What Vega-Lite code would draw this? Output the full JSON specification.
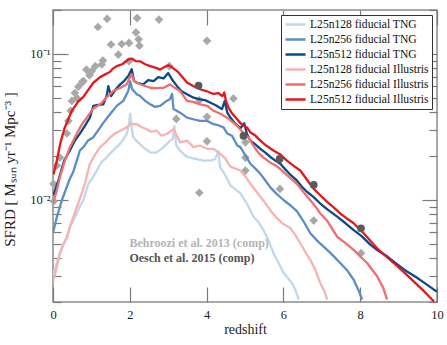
{
  "$schema": "https://vega.github.io/schema/vega-lite/v6.json",
  "width": 384,
  "height": 292,
  "autosize": {"type": "none"},
  "padding": {"left": 53, "top": 10, "right": 10, "bottom": 43},
  "config": {
    "view": {"stroke": "#8c8c8c", "strokeWidth": 1.5},
    "font": "Liberation Serif",
    "axis": {"grid": false, "domain": false, "labelFont": "Liberation Serif", "titleFont": "Liberation Serif", "titleFontWeight": "normal", "labelColor": "#222", "titleColor": "#222", "tickColor": "#7a7a7a", "tickWidth": 1.2}
  },
  "datasets": {
    "behroozi": [
      {"z":1.41,"sfrd":0.174},{"z":1.17,"sfrd":0.153},{"z":2.19,"sfrd":0.176},{"z":2.76,"sfrd":0.172},{"z":4.01,"sfrd":0.123},
      {"z":2.16,"sfrd":0.1405},{"z":1.98,"sfrd":0.119},{"z":2.23,"sfrd":0.126},{"z":2.25,"sfrd":0.114},{"z":1.51,"sfrd":0.116},
      {"z":1.79,"sfrd":0.117},{"z":1.70,"sfrd":0.0989},{"z":1.30,"sfrd":0.0902},{"z":1.10,"sfrd":0.0825},{"z":0.87,"sfrd":0.078},
      {"z":0.95,"sfrd":0.0714},{"z":0.76,"sfrd":0.0642},{"z":0.66,"sfrd":0.0596},{"z":0.57,"sfrd":0.054},{"z":0.49,"sfrd":0.0477},
      {"z":0.46,"sfrd":0.0408},{"z":0.40,"sfrd":0.0348},{"z":0.36,"sfrd":0.0285},{"z":0.18,"sfrd":0.0195},{"z":0.10,"sfrd":0.0172},
      {"z":1.98,"sfrd":0.0892},{"z":3.03,"sfrd":0.0825},{"z":3.81,"sfrd":0.0482},{"z":4.01,"sfrd":0.0371},{"z":4.01,"sfrd":0.0252},
      {"z":3.81,"sfrd":0.0112},{"z":4.70,"sfrd":0.0495},{"z":5.01,"sfrd":0.0248},{"z":5.01,"sfrd":0.0195},{"z":5.01,"sfrd":0.0159},
      {"z":5.91,"sfrd":0.0119},{"z":6.79,"sfrd":0.00722},{"z":8.02,"sfrd":0.00432},{"z":1.27,"sfrd":0.0847},{"z":1.01,"sfrd":0.0763},
      {"z":0.79,"sfrd":0.0652},{"z":0.01,"sfrd":0.0129},{"z":0.02,"sfrd":0.0098},{"z":3.21,"sfrd":0.0359},{"z":0.62,"sfrd":0.05}
    ],
    "oesch": [
      {"z":3.79,"sfrd":0.0608},{"z":4.96,"sfrd":0.0275},{"z":5.90,"sfrd":0.0191},{"z":6.79,"sfrd":0.0127},{"z":8.02,"sfrd":0.00639}
    ],
    "notes": [
      {"label":"Behroozi et al. 2013 (comp)","z":1.99,"sfrd":0.00511},
      {"label":"Oesch et al. 2015 (comp)","z":1.99,"sfrd":0.0040}
    ],
    "sims": [
      {"run":"L25n128 fiducial TNG","z":0.0,"sfrd":0.00307},{"run":"L25n128 fiducial TNG","z":0.10,"sfrd":0.0037},{"run":"L25n128 fiducial TNG","z":0.27,"sfrd":0.00505},{"run":"L25n128 fiducial TNG","z":0.37,"sfrd":0.00549},{"run":"L25n128 fiducial TNG","z":0.44,"sfrd":0.00655},{"run":"L25n128 fiducial TNG","z":0.62,"sfrd":0.00808},{"run":"L25n128 fiducial TNG","z":0.70,"sfrd":0.00906},{"run":"L25n128 fiducial TNG","z":0.79,"sfrd":0.00995},{"run":"L25n128 fiducial TNG","z":0.92,"sfrd":0.0129},{"run":"L25n128 fiducial TNG","z":1.02,"sfrd":0.014},{"run":"L25n128 fiducial TNG","z":1.14,"sfrd":0.0159},{"run":"L25n128 fiducial TNG","z":1.25,"sfrd":0.018},{"run":"L25n128 fiducial TNG","z":1.40,"sfrd":0.0196},{"run":"L25n128 fiducial TNG","z":1.51,"sfrd":0.0211},{"run":"L25n128 fiducial TNG","z":1.66,"sfrd":0.023},{"run":"L25n128 fiducial TNG","z":1.77,"sfrd":0.0247},{"run":"L25n128 fiducial TNG","z":1.92,"sfrd":0.0283},{"run":"L25n128 fiducial TNG","z":1.97,"sfrd":0.0322},{"run":"L25n128 fiducial TNG","z":2.01,"sfrd":0.039},{"run":"L25n128 fiducial TNG","z":2.05,"sfrd":0.0312},{"run":"L25n128 fiducial TNG","z":2.09,"sfrd":0.0269},{"run":"L25n128 fiducial TNG","z":2.22,"sfrd":0.0247},{"run":"L25n128 fiducial TNG","z":2.35,"sfrd":0.023},{"run":"L25n128 fiducial TNG","z":2.53,"sfrd":0.0212},{"run":"L25n128 fiducial TNG","z":2.69,"sfrd":0.0211},{"run":"L25n128 fiducial TNG","z":2.88,"sfrd":0.023},{"run":"L25n128 fiducial TNG","z":3.05,"sfrd":0.0255},{"run":"L25n128 fiducial TNG","z":3.12,"sfrd":0.0262},{"run":"L25n128 fiducial TNG","z":3.16,"sfrd":0.032},{"run":"L25n128 fiducial TNG","z":3.21,"sfrd":0.0236},{"run":"L25n128 fiducial TNG","z":3.31,"sfrd":0.0218},{"run":"L25n128 fiducial TNG","z":3.49,"sfrd":0.0197},{"run":"L25n128 fiducial TNG","z":3.65,"sfrd":0.0193},{"run":"L25n128 fiducial TNG","z":3.92,"sfrd":0.0186},{"run":"L25n128 fiducial TNG","z":4.09,"sfrd":0.0186},{"run":"L25n128 fiducial TNG","z":4.22,"sfrd":0.019},{"run":"L25n128 fiducial TNG","z":4.31,"sfrd":0.0215},{"run":"L25n128 fiducial TNG","z":4.35,"sfrd":0.0168},{"run":"L25n128 fiducial TNG","z":4.46,"sfrd":0.0152},{"run":"L25n128 fiducial TNG","z":4.62,"sfrd":0.0126},{"run":"L25n128 fiducial TNG","z":4.88,"sfrd":0.0111},{"run":"L25n128 fiducial TNG","z":5.05,"sfrd":0.00945},{"run":"L25n128 fiducial TNG","z":5.22,"sfrd":0.00767},{"run":"L25n128 fiducial TNG","z":5.35,"sfrd":0.00706},{"run":"L25n128 fiducial TNG","z":5.48,"sfrd":0.00622},{"run":"L25n128 fiducial TNG","z":5.61,"sfrd":0.00532},{"run":"L25n128 fiducial TNG","z":5.74,"sfrd":0.00432},{"run":"L25n128 fiducial TNG","z":5.87,"sfrd":0.00371},{"run":"L25n128 fiducial TNG","z":6.01,"sfrd":0.00316},{"run":"L25n128 fiducial TNG","z":6.22,"sfrd":0.0027},{"run":"L25n128 fiducial TNG","z":6.31,"sfrd":0.00243},{"run":"L25n128 fiducial TNG","z":6.40,"sfrd":0.00208},

      {"run":"L25n256 fiducial TNG","z":0.0,"sfrd":0.00594},{"run":"L25n256 fiducial TNG","z":0.10,"sfrd":0.00763},{"run":"L25n256 fiducial TNG","z":0.23,"sfrd":0.00995},{"run":"L25n256 fiducial TNG","z":0.31,"sfrd":0.01134},{"run":"L25n256 fiducial TNG","z":0.44,"sfrd":0.014},{"run":"L25n256 fiducial TNG","z":0.52,"sfrd":0.0154},{"run":"L25n256 fiducial TNG","z":0.62,"sfrd":0.0186},{"run":"L25n256 fiducial TNG","z":0.70,"sfrd":0.0218},{"run":"L25n256 fiducial TNG","z":0.79,"sfrd":0.023},{"run":"L25n256 fiducial TNG","z":0.91,"sfrd":0.0255},{"run":"L25n256 fiducial TNG","z":1.05,"sfrd":0.0269},{"run":"L25n256 fiducial TNG","z":1.17,"sfrd":0.0298},{"run":"L25n256 fiducial TNG","z":1.31,"sfrd":0.0337},{"run":"L25n256 fiducial TNG","z":1.49,"sfrd":0.0388},{"run":"L25n256 fiducial TNG","z":1.66,"sfrd":0.0441},{"run":"L25n256 fiducial TNG","z":1.83,"sfrd":0.0477},{"run":"L25n256 fiducial TNG","z":1.96,"sfrd":0.0557},{"run":"L25n256 fiducial TNG","z":2.01,"sfrd":0.065},{"run":"L25n256 fiducial TNG","z":2.06,"sfrd":0.0575},{"run":"L25n256 fiducial TNG","z":2.18,"sfrd":0.053},{"run":"L25n256 fiducial TNG","z":2.27,"sfrd":0.0515},{"run":"L25n256 fiducial TNG","z":2.40,"sfrd":0.0477},{"run":"L25n256 fiducial TNG","z":2.53,"sfrd":0.0452},{"run":"L25n256 fiducial TNG","z":2.66,"sfrd":0.0434},{"run":"L25n256 fiducial TNG","z":2.79,"sfrd":0.0441},{"run":"L25n256 fiducial TNG","z":2.96,"sfrd":0.0477},{"run":"L25n256 fiducial TNG","z":3.05,"sfrd":0.0492},{"run":"L25n256 fiducial TNG","z":3.10,"sfrd":0.0532},{"run":"L25n256 fiducial TNG","z":3.14,"sfrd":0.0419},{"run":"L25n256 fiducial TNG","z":3.31,"sfrd":0.0396},{"run":"L25n256 fiducial TNG","z":3.49,"sfrd":0.0366},{"run":"L25n256 fiducial TNG","z":3.65,"sfrd":0.0357},{"run":"L25n256 fiducial TNG","z":3.83,"sfrd":0.0348},{"run":"L25n256 fiducial TNG","z":4.01,"sfrd":0.0348},{"run":"L25n256 fiducial TNG","z":4.18,"sfrd":0.033},{"run":"L25n256 fiducial TNG","z":4.30,"sfrd":0.0325},{"run":"L25n256 fiducial TNG","z":4.44,"sfrd":0.0314},{"run":"L25n256 fiducial TNG","z":4.54,"sfrd":0.0285},{"run":"L25n256 fiducial TNG","z":4.66,"sfrd":0.0275},{"run":"L25n256 fiducial TNG","z":4.80,"sfrd":0.0236},{"run":"L25n256 fiducial TNG","z":4.88,"sfrd":0.023},{"run":"L25n256 fiducial TNG","z":5.01,"sfrd":0.0202},{"run":"L25n256 fiducial TNG","z":5.14,"sfrd":0.0177},{"run":"L25n256 fiducial TNG","z":5.27,"sfrd":0.0164},{"run":"L25n256 fiducial TNG","z":5.40,"sfrd":0.0151},{"run":"L25n256 fiducial TNG","z":5.53,"sfrd":0.0136},{"run":"L25n256 fiducial TNG","z":5.66,"sfrd":0.0122},{"run":"L25n256 fiducial TNG","z":5.81,"sfrd":0.0111},{"run":"L25n256 fiducial TNG","z":6.01,"sfrd":0.00995},{"run":"L25n256 fiducial TNG","z":6.18,"sfrd":0.0092},{"run":"L25n256 fiducial TNG","z":6.35,"sfrd":0.00838},{"run":"L25n256 fiducial TNG","z":6.52,"sfrd":0.00717},{"run":"L25n256 fiducial TNG","z":6.70,"sfrd":0.00591},{"run":"L25n256 fiducial TNG","z":6.91,"sfrd":0.00516},{"run":"L25n256 fiducial TNG","z":7.14,"sfrd":0.00455},{"run":"L25n256 fiducial TNG","z":7.30,"sfrd":0.00414},{"run":"L25n256 fiducial TNG","z":7.48,"sfrd":0.0037},{"run":"L25n256 fiducial TNG","z":7.67,"sfrd":0.00327},{"run":"L25n256 fiducial TNG","z":7.83,"sfrd":0.00284},{"run":"L25n256 fiducial TNG","z":7.95,"sfrd":0.00243},{"run":"L25n256 fiducial TNG","z":8.05,"sfrd":0.00208},

      {"run":"L25n512 fiducial TNG","z":0.01,"sfrd":0.0108},{"run":"L25n512 fiducial TNG","z":0.14,"sfrd":0.0136},{"run":"L25n512 fiducial TNG","z":0.29,"sfrd":0.0186},{"run":"L25n512 fiducial TNG","z":0.44,"sfrd":0.0218},{"run":"L25n512 fiducial TNG","z":0.57,"sfrd":0.0255},{"run":"L25n512 fiducial TNG","z":0.70,"sfrd":0.0285},{"run":"L25n512 fiducial TNG","z":0.83,"sfrd":0.0322},{"run":"L25n512 fiducial TNG","z":0.96,"sfrd":0.0366},{"run":"L25n512 fiducial TNG","z":1.05,"sfrd":0.0441},{"run":"L25n512 fiducial TNG","z":1.17,"sfrd":0.0448},{"run":"L25n512 fiducial TNG","z":1.31,"sfrd":0.0452},{"run":"L25n512 fiducial TNG","z":1.40,"sfrd":0.052},{"run":"L25n512 fiducial TNG","z":1.44,"sfrd":0.0602},{"run":"L25n512 fiducial TNG","z":1.51,"sfrd":0.0515},{"run":"L25n512 fiducial TNG","z":1.64,"sfrd":0.0575},{"run":"L25n512 fiducial TNG","z":1.75,"sfrd":0.0619},{"run":"L25n512 fiducial TNG","z":1.85,"sfrd":0.0652},{"run":"L25n512 fiducial TNG","z":1.96,"sfrd":0.0705},{"run":"L25n512 fiducial TNG","z":2.05,"sfrd":0.0785},{"run":"L25n512 fiducial TNG","z":2.11,"sfrd":0.0652},{"run":"L25n512 fiducial TNG","z":2.19,"sfrd":0.0635},{"run":"L25n512 fiducial TNG","z":2.35,"sfrd":0.0619},{"run":"L25n512 fiducial TNG","z":2.48,"sfrd":0.0663},{"run":"L25n512 fiducial TNG","z":2.62,"sfrd":0.0652},{"run":"L25n512 fiducial TNG","z":2.74,"sfrd":0.0694},{"run":"L25n512 fiducial TNG","z":2.88,"sfrd":0.068},{"run":"L25n512 fiducial TNG","z":3.0,"sfrd":0.074},{"run":"L25n512 fiducial TNG","z":3.10,"sfrd":0.0669},{"run":"L25n512 fiducial TNG","z":3.23,"sfrd":0.0602},{"run":"L25n512 fiducial TNG","z":3.34,"sfrd":0.0557},{"run":"L25n512 fiducial TNG","z":3.49,"sfrd":0.053},{"run":"L25n512 fiducial TNG","z":3.66,"sfrd":0.0502},{"run":"L25n512 fiducial TNG","z":3.83,"sfrd":0.0489},{"run":"L25n512 fiducial TNG","z":3.96,"sfrd":0.0483},{"run":"L25n512 fiducial TNG","z":4.09,"sfrd":0.0465},{"run":"L25n512 fiducial TNG","z":4.25,"sfrd":0.0444},{"run":"L25n512 fiducial TNG","z":4.40,"sfrd":0.0419},{"run":"L25n512 fiducial TNG","z":4.47,"sfrd":0.0475},{"run":"L25n512 fiducial TNG","z":4.54,"sfrd":0.0396},{"run":"L25n512 fiducial TNG","z":4.62,"sfrd":0.0367},{"run":"L25n512 fiducial TNG","z":4.75,"sfrd":0.0332},{"run":"L25n512 fiducial TNG","z":4.88,"sfrd":0.031},{"run":"L25n512 fiducial TNG","z":4.98,"sfrd":0.0335},{"run":"L25n512 fiducial TNG","z":5.05,"sfrd":0.0283},{"run":"L25n512 fiducial TNG","z":5.14,"sfrd":0.0255},{"run":"L25n512 fiducial TNG","z":5.27,"sfrd":0.024},{"run":"L25n512 fiducial TNG","z":5.40,"sfrd":0.0224},{"run":"L25n512 fiducial TNG","z":5.53,"sfrd":0.0211},{"run":"L25n512 fiducial TNG","z":5.66,"sfrd":0.0197},{"run":"L25n512 fiducial TNG","z":5.79,"sfrd":0.0186},{"run":"L25n512 fiducial TNG","z":5.92,"sfrd":0.0177},{"run":"L25n512 fiducial TNG","z":6.05,"sfrd":0.0162},{"run":"L25n512 fiducial TNG","z":6.18,"sfrd":0.0149},{"run":"L25n512 fiducial TNG","z":6.35,"sfrd":0.0136},{"run":"L25n512 fiducial TNG","z":6.47,"sfrd":0.0124},{"run":"L25n512 fiducial TNG","z":6.62,"sfrd":0.01134},{"run":"L25n512 fiducial TNG","z":6.78,"sfrd":0.0105},{"run":"L25n512 fiducial TNG","z":6.96,"sfrd":0.00945},{"run":"L25n512 fiducial TNG","z":7.17,"sfrd":0.00851},{"run":"L25n512 fiducial TNG","z":7.40,"sfrd":0.00769},{"run":"L25n512 fiducial TNG","z":7.61,"sfrd":0.00695},{"run":"L25n512 fiducial TNG","z":7.83,"sfrd":0.00622},{"run":"L25n512 fiducial TNG","z":8.03,"sfrd":0.00568},{"run":"L25n512 fiducial TNG","z":8.27,"sfrd":0.00492},{"run":"L25n512 fiducial TNG","z":8.47,"sfrd":0.00448},{"run":"L25n512 fiducial TNG","z":8.70,"sfrd":0.00411},{"run":"L25n512 fiducial TNG","z":8.94,"sfrd":0.00366},{"run":"L25n512 fiducial TNG","z":9.22,"sfrd":0.00323},{"run":"L25n512 fiducial TNG","z":9.44,"sfrd":0.00298},{"run":"L25n512 fiducial TNG","z":9.70,"sfrd":0.00267},{"run":"L25n512 fiducial TNG","z":9.92,"sfrd":0.00243},{"run":"L25n512 fiducial TNG","z":10.0,"sfrd":0.00236},

      {"run":"L25n128 fiducial Illustris","z":0.0,"sfrd":0.00275},{"run":"L25n128 fiducial Illustris","z":0.08,"sfrd":0.00332},{"run":"L25n128 fiducial Illustris","z":0.18,"sfrd":0.00432},{"run":"L25n128 fiducial Illustris","z":0.36,"sfrd":0.00561},{"run":"L25n128 fiducial Illustris","z":0.53,"sfrd":0.00767},{"run":"L25n128 fiducial Illustris","z":0.70,"sfrd":0.0102},{"run":"L25n128 fiducial Illustris","z":0.83,"sfrd":0.0129},{"run":"L25n128 fiducial Illustris","z":0.96,"sfrd":0.0177},{"run":"L25n128 fiducial Illustris","z":1.10,"sfrd":0.0205},{"run":"L25n128 fiducial Illustris","z":1.23,"sfrd":0.023},{"run":"L25n128 fiducial Illustris","z":1.36,"sfrd":0.0247},{"run":"L25n128 fiducial Illustris","z":1.49,"sfrd":0.0269},{"run":"L25n128 fiducial Illustris","z":1.62,"sfrd":0.0285},{"run":"L25n128 fiducial Illustris","z":1.75,"sfrd":0.0298},{"run":"L25n128 fiducial Illustris","z":1.92,"sfrd":0.0314},{"run":"L25n128 fiducial Illustris","z":2.03,"sfrd":0.0332},{"run":"L25n128 fiducial Illustris","z":2.18,"sfrd":0.033},{"run":"L25n128 fiducial Illustris","z":2.30,"sfrd":0.0316},{"run":"L25n128 fiducial Illustris","z":2.44,"sfrd":0.0305},{"run":"L25n128 fiducial Illustris","z":2.56,"sfrd":0.0293},{"run":"L25n128 fiducial Illustris","z":2.70,"sfrd":0.0298},{"run":"L25n128 fiducial Illustris","z":2.82,"sfrd":0.0276},{"run":"L25n128 fiducial Illustris","z":2.96,"sfrd":0.0283},{"run":"L25n128 fiducial Illustris","z":3.14,"sfrd":0.0305},{"run":"L25n128 fiducial Illustris","z":3.31,"sfrd":0.0248},{"run":"L25n128 fiducial Illustris","z":3.49,"sfrd":0.0255},{"run":"L25n128 fiducial Illustris","z":3.66,"sfrd":0.023},{"run":"L25n128 fiducial Illustris","z":3.83,"sfrd":0.0236},{"run":"L25n128 fiducial Illustris","z":4.01,"sfrd":0.0224},{"run":"L25n128 fiducial Illustris","z":4.18,"sfrd":0.0224},{"run":"L25n128 fiducial Illustris","z":4.36,"sfrd":0.0207},{"run":"L25n128 fiducial Illustris","z":4.49,"sfrd":0.0192},{"run":"L25n128 fiducial Illustris","z":4.62,"sfrd":0.0169},{"run":"L25n128 fiducial Illustris","z":4.88,"sfrd":0.0159},{"run":"L25n128 fiducial Illustris","z":5.01,"sfrd":0.0145},{"run":"L25n128 fiducial Illustris","z":5.14,"sfrd":0.0129},{"run":"L25n128 fiducial Illustris","z":5.27,"sfrd":0.01164},{"run":"L25n128 fiducial Illustris","z":5.40,"sfrd":0.0105},{"run":"L25n128 fiducial Illustris","z":5.53,"sfrd":0.00949},{"run":"L25n128 fiducial Illustris","z":5.66,"sfrd":0.00851},{"run":"L25n128 fiducial Illustris","z":5.83,"sfrd":0.0075},{"run":"L25n128 fiducial Illustris","z":6.00,"sfrd":0.00684},{"run":"L25n128 fiducial Illustris","z":6.18,"sfrd":0.00642},{"run":"L25n128 fiducial Illustris","z":6.31,"sfrd":0.00575},{"run":"L25n128 fiducial Illustris","z":6.44,"sfrd":0.00505},{"run":"L25n128 fiducial Illustris","z":6.57,"sfrd":0.00441},{"run":"L25n128 fiducial Illustris","z":6.70,"sfrd":0.00389},{"run":"L25n128 fiducial Illustris","z":6.83,"sfrd":0.00332},{"run":"L25n128 fiducial Illustris","z":6.96,"sfrd":0.0027},{"run":"L25n128 fiducial Illustris","z":7.07,"sfrd":0.00236},{"run":"L25n128 fiducial Illustris","z":7.14,"sfrd":0.00208},

      {"run":"L25n256 fiducial Illustris","z":0.0,"sfrd":0.00949},{"run":"L25n256 fiducial Illustris","z":0.10,"sfrd":0.01164},{"run":"L25n256 fiducial Illustris","z":0.18,"sfrd":0.0143},{"run":"L25n256 fiducial Illustris","z":0.31,"sfrd":0.0186},{"run":"L25n256 fiducial Illustris","z":0.44,"sfrd":0.0229},{"run":"L25n256 fiducial Illustris","z":0.62,"sfrd":0.0285},{"run":"L25n256 fiducial Illustris","z":0.76,"sfrd":0.0332},{"run":"L25n256 fiducial Illustris","z":0.88,"sfrd":0.0366},{"run":"L25n256 fiducial Illustris","z":1.04,"sfrd":0.0421},{"run":"L25n256 fiducial Illustris","z":1.23,"sfrd":0.0452},{"run":"L25n256 fiducial Illustris","z":1.38,"sfrd":0.05},{"run":"L25n256 fiducial Illustris","z":1.57,"sfrd":0.0557},{"run":"L25n256 fiducial Illustris","z":1.75,"sfrd":0.0584},{"run":"L25n256 fiducial Illustris","z":1.92,"sfrd":0.0619},{"run":"L25n256 fiducial Illustris","z":1.98,"sfrd":0.0673},{"run":"L25n256 fiducial Illustris","z":2.05,"sfrd":0.0725},{"run":"L25n256 fiducial Illustris","z":2.11,"sfrd":0.0652},{"run":"L25n256 fiducial Illustris","z":2.18,"sfrd":0.0635},{"run":"L25n256 fiducial Illustris","z":2.32,"sfrd":0.0613},{"run":"L25n256 fiducial Illustris","z":2.53,"sfrd":0.0587},{"run":"L25n256 fiducial Illustris","z":2.69,"sfrd":0.0584},{"run":"L25n256 fiducial Illustris","z":2.88,"sfrd":0.0587},{"run":"L25n256 fiducial Illustris","z":3.05,"sfrd":0.0619},{"run":"L25n256 fiducial Illustris","z":3.18,"sfrd":0.0584},{"run":"L25n256 fiducial Illustris","z":3.31,"sfrd":0.0557},{"run":"L25n256 fiducial Illustris","z":3.49,"sfrd":0.0477},{"run":"L25n256 fiducial Illustris","z":3.65,"sfrd":0.047},{"run":"L25n256 fiducial Illustris","z":3.83,"sfrd":0.0452},{"run":"L25n256 fiducial Illustris","z":4.02,"sfrd":0.0441},{"run":"L25n256 fiducial Illustris","z":4.18,"sfrd":0.0408},{"run":"L25n256 fiducial Illustris","z":4.36,"sfrd":0.0389},{"run":"L25n256 fiducial Illustris","z":4.53,"sfrd":0.0366},{"run":"L25n256 fiducial Illustris","z":4.64,"sfrd":0.0348},{"run":"L25n256 fiducial Illustris","z":4.79,"sfrd":0.0322},{"run":"L25n256 fiducial Illustris","z":4.95,"sfrd":0.0289},{"run":"L25n256 fiducial Illustris","z":5.10,"sfrd":0.0265},{"run":"L25n256 fiducial Illustris","z":5.22,"sfrd":0.0235},{"run":"L25n256 fiducial Illustris","z":5.35,"sfrd":0.021},{"run":"L25n256 fiducial Illustris","z":5.48,"sfrd":0.0195},{"run":"L25n256 fiducial Illustris","z":5.66,"sfrd":0.018},{"run":"L25n256 fiducial Illustris","z":5.80,"sfrd":0.0172},{"run":"L25n256 fiducial Illustris","z":5.92,"sfrd":0.0163},{"run":"L25n256 fiducial Illustris","z":6.09,"sfrd":0.0148},{"run":"L25n256 fiducial Illustris","z":6.20,"sfrd":0.014},{"run":"L25n256 fiducial Illustris","z":6.35,"sfrd":0.0129},{"run":"L25n256 fiducial Illustris","z":6.50,"sfrd":0.0115},{"run":"L25n256 fiducial Illustris","z":6.70,"sfrd":0.00995},{"run":"L25n256 fiducial Illustris","z":6.85,"sfrd":0.0089},{"run":"L25n256 fiducial Illustris","z":6.96,"sfrd":0.00808},{"run":"L25n256 fiducial Illustris","z":7.14,"sfrd":0.0072},{"run":"L25n256 fiducial Illustris","z":7.40,"sfrd":0.0056},{"run":"L25n256 fiducial Illustris","z":7.60,"sfrd":0.0051},{"run":"L25n256 fiducial Illustris","z":7.83,"sfrd":0.00455},{"run":"L25n256 fiducial Illustris","z":8.00,"sfrd":0.0041},{"run":"L25n256 fiducial Illustris","z":8.18,"sfrd":0.0037},{"run":"L25n256 fiducial Illustris","z":8.44,"sfrd":0.003},{"run":"L25n256 fiducial Illustris","z":8.60,"sfrd":0.0025},{"run":"L25n256 fiducial Illustris","z":8.70,"sfrd":0.00208},

      {"run":"L25n512 fiducial Illustris","z":0.01,"sfrd":0.0149},{"run":"L25n512 fiducial Illustris","z":0.10,"sfrd":0.0186},{"run":"L25n512 fiducial Illustris","z":0.20,"sfrd":0.025},{"run":"L25n512 fiducial Illustris","z":0.30,"sfrd":0.031},{"run":"L25n512 fiducial Illustris","z":0.49,"sfrd":0.0408},{"run":"L25n512 fiducial Illustris","z":0.65,"sfrd":0.047},{"run":"L25n512 fiducial Illustris","z":0.79,"sfrd":0.0508},{"run":"L25n512 fiducial Illustris","z":1.05,"sfrd":0.0635},{"run":"L25n512 fiducial Illustris","z":1.226,"sfrd":0.0694},{"run":"L25n512 fiducial Illustris","z":1.44,"sfrd":0.0743},{"run":"L25n512 fiducial Illustris","z":1.50,"sfrd":0.076},{"run":"L25n512 fiducial Illustris","z":1.55,"sfrd":0.079},{"run":"L25n512 fiducial Illustris","z":1.66,"sfrd":0.0825},{"run":"L25n512 fiducial Illustris","z":1.80,"sfrd":0.085},{"run":"L25n512 fiducial Illustris","z":1.96,"sfrd":0.0916},{"run":"L25n512 fiducial Illustris","z":2.05,"sfrd":0.093},{"run":"L25n512 fiducial Illustris","z":2.16,"sfrd":0.0892},{"run":"L25n512 fiducial Illustris","z":2.27,"sfrd":0.089},{"run":"L25n512 fiducial Illustris","z":2.40,"sfrd":0.085},{"run":"L25n512 fiducial Illustris","z":2.53,"sfrd":0.0825},{"run":"L25n512 fiducial Illustris","z":2.60,"sfrd":0.0815},{"run":"L25n512 fiducial Illustris","z":2.70,"sfrd":0.080},{"run":"L25n512 fiducial Illustris","z":2.79,"sfrd":0.0781},{"run":"L25n512 fiducial Illustris","z":2.89,"sfrd":0.081},{"run":"L25n512 fiducial Illustris","z":3.0,"sfrd":0.0838},{"run":"L25n512 fiducial Illustris","z":3.10,"sfrd":0.081},{"run":"L25n512 fiducial Illustris","z":3.23,"sfrd":0.0763},{"run":"L25n512 fiducial Illustris","z":3.34,"sfrd":0.0708},{"run":"L25n512 fiducial Illustris","z":3.49,"sfrd":0.0637},{"run":"L25n512 fiducial Illustris","z":3.65,"sfrd":0.0604},{"run":"L25n512 fiducial Illustris","z":3.83,"sfrd":0.0573},{"run":"L25n512 fiducial Illustris","z":3.99,"sfrd":0.0557},{"run":"L25n512 fiducial Illustris","z":4.18,"sfrd":0.0532},{"run":"L25n512 fiducial Illustris","z":4.30,"sfrd":0.054},{"run":"L25n512 fiducial Illustris","z":4.41,"sfrd":0.0515},{"run":"L25n512 fiducial Illustris","z":4.46,"sfrd":0.0545},{"run":"L25n512 fiducial Illustris","z":4.50,"sfrd":0.048},{"run":"L25n512 fiducial Illustris","z":4.57,"sfrd":0.0429},{"run":"L25n512 fiducial Illustris","z":4.67,"sfrd":0.0389},{"run":"L25n512 fiducial Illustris","z":4.79,"sfrd":0.0358},{"run":"L25n512 fiducial Illustris","z":4.90,"sfrd":0.0332},{"run":"L25n512 fiducial Illustris","z":5.05,"sfrd":0.0314},{"run":"L25n512 fiducial Illustris","z":5.14,"sfrd":0.029},{"run":"L25n512 fiducial Illustris","z":5.27,"sfrd":0.0276},{"run":"L25n512 fiducial Illustris","z":5.40,"sfrd":0.0255},{"run":"L25n512 fiducial Illustris","z":5.55,"sfrd":0.0236},{"run":"L25n512 fiducial Illustris","z":5.74,"sfrd":0.0218},{"run":"L25n512 fiducial Illustris","z":5.92,"sfrd":0.0205},{"run":"L25n512 fiducial Illustris","z":6.09,"sfrd":0.0186},{"run":"L25n512 fiducial Illustris","z":6.26,"sfrd":0.0172},{"run":"L25n512 fiducial Illustris","z":6.44,"sfrd":0.0159},{"run":"L25n512 fiducial Illustris","z":6.61,"sfrd":0.0138},{"run":"L25n512 fiducial Illustris","z":6.79,"sfrd":0.0119},{"run":"L25n512 fiducial Illustris","z":6.96,"sfrd":0.01077},{"run":"L25n512 fiducial Illustris","z":7.14,"sfrd":0.00969},{"run":"L25n512 fiducial Illustris","z":7.30,"sfrd":0.00892},{"run":"L25n512 fiducial Illustris","z":7.48,"sfrd":0.00808},{"run":"L25n512 fiducial Illustris","z":7.64,"sfrd":0.00751},{"run":"L25n512 fiducial Illustris","z":7.83,"sfrd":0.00692},{"run":"L25n512 fiducial Illustris","z":7.95,"sfrd":0.00642},{"run":"L25n512 fiducial Illustris","z":8.09,"sfrd":0.00591},{"run":"L25n512 fiducial Illustris","z":8.27,"sfrd":0.00524},{"run":"L25n512 fiducial Illustris","z":8.44,"sfrd":0.00467},{"run":"L25n512 fiducial Illustris","z":8.66,"sfrd":0.00414},{"run":"L25n512 fiducial Illustris","z":8.87,"sfrd":0.0037},{"run":"L25n512 fiducial Illustris","z":9.13,"sfrd":0.00322},{"run":"L25n512 fiducial Illustris","z":9.39,"sfrd":0.00277},{"run":"L25n512 fiducial Illustris","z":9.62,"sfrd":0.00243},{"run":"L25n512 fiducial Illustris","z":9.87,"sfrd":0.00208},{"run":"L25n512 fiducial Illustris","z":9.92,"sfrd":0.00202}
    ]
  },
  "layer": [
    {
      "data": {"name": "behroozi"},
      "mark": {"type": "point", "shape": "diamond", "filled": true, "color": "#a8a8a8", "opacity": 1, "size": 75},
      "encoding": {
        "x": {"field": "z", "type": "quantitative", "scale": {"domain": [0, 10], "nice": false},
          "axis": {"orient": "bottom", "title": "redshift", "values": [0, 2, 4, 6, 8, 10], "tickSize": -15, "labelPadding": 21, "labelFontSize": 12.5, "titleFontSize": 14, "titlePadding": 2, "labelFlush": false}},
        "y": {"field": "sfrd", "type": "quantitative", "scale": {"type": "log", "domain": [0.002, 0.2], "nice": false},
          "axis": {"orient": "left", "title": "SFRD [ Mₛᵤₙ  yr⁻¹   Mpc⁻³ ]", "titleFontSize": 15, "titlePadding": 12, "titleY": 159,
            "values": [0.01, 0.1], "tickSize": -15,
            "labelExpr": "datum.value > 0.05 ? '10⁻¹' : '10⁻²'",
            "labelOverlap": false, "labelFontSize": 12.5, "labelPadding": 18}}
      }
    },
    {
      "data": {"name": "sims"},
      "mark": {"type": "line", "strokeWidth": 2.3, "clip": true, "strokeJoin": "round"},
      "encoding": {
        "x": {"field": "z", "type": "quantitative", "scale": {"domain": [0, 10], "nice": false},
          "axis": {"orient": "top", "title": null, "values": [0, 2, 4, 6, 8, 10], "tickSize": -15, "labels": false}},
        "y": {"field": "sfrd", "type": "quantitative", "scale": {"type": "log", "domain": [0.002, 0.2], "nice": false},
          "axis": {"orient": "right", "title": null, "labels": false, "values": [0.01, 0.1], "tickSize": -15}},
        "color": {"field": "run", "type": "nominal",
          "scale": {"domain": ["L25n128 fiducial TNG", "L25n256 fiducial TNG", "L25n512 fiducial TNG", "L25n128 fiducial Illustris", "L25n256 fiducial Illustris", "L25n512 fiducial Illustris"],
                    "range": ["#c3d7ec", "#5d8dc5", "#0a4a8c", "#f6b3b3", "#ef6e6e", "#e4171c"]},
          "legend": {"orient": "top-right", "offset": 5, "title": null, "symbolType": "M-1,0L3,0", "symbolSize": 100, "symbolStrokeWidth": 2.5,
            "labelFontSize": 11.6, "labelFont": "Liberation Serif", "labelColor": "#111", "strokeColor": "#333", "fillColor": "white", "padding": 3, "rowPadding": 2, "labelOffset": 13}},
        "order": {"field": "z", "type": "quantitative"}
      }
    },
    {
      "data": {"name": "oesch"},
      "mark": {"type": "point", "shape": "circle", "filled": true, "color": "#5a5a5a", "opacity": 1, "size": 60},
      "encoding": {
        "x": {"field": "z", "type": "quantitative", "scale": {"domain": [0, 10], "nice": false}, "axis": null},
        "y": {"field": "sfrd", "type": "quantitative", "scale": {"type": "log", "domain": [0.002, 0.2], "nice": false},
          "axis": {"orient": "left", "title": null, "labels": false, "tickSize": -8,
            "values": [0.002, 0.003, 0.004, 0.005, 0.006, 0.007, 0.008, 0.009, 0.02, 0.03, 0.04, 0.05, 0.06, 0.07, 0.08, 0.09, 0.2]}}
      }
    },
    {
      "data": {"name": "notes"},
      "mark": {"type": "text", "align": "left", "baseline": "middle", "fontWeight": "bold", "fontSize": 12, "font": "Liberation Serif"},
      "encoding": {
        "x": {"field": "z", "type": "quantitative", "scale": {"domain": [0, 10], "nice": false}, "axis": null},
        "y": {"field": "sfrd", "type": "quantitative", "scale": {"type": "log", "domain": [0.002, 0.2], "nice": false},
          "axis": {"orient": "right", "title": null, "labels": false, "tickSize": -8,
            "values": [0.002, 0.003, 0.004, 0.005, 0.006, 0.007, 0.008, 0.009, 0.02, 0.03, 0.04, 0.05, 0.06, 0.07, 0.08, 0.09, 0.2]}},
        "text": {"field": "label"},
        "color": {"condition": {"test": "indexof(datum.label, 'Oesch') >= 0", "value": "#555555"}, "value": "#b4b4b4"}
      }
    }
  ],
  "resolve": {"axis": {"x": "independent", "y": "independent"}}
}
